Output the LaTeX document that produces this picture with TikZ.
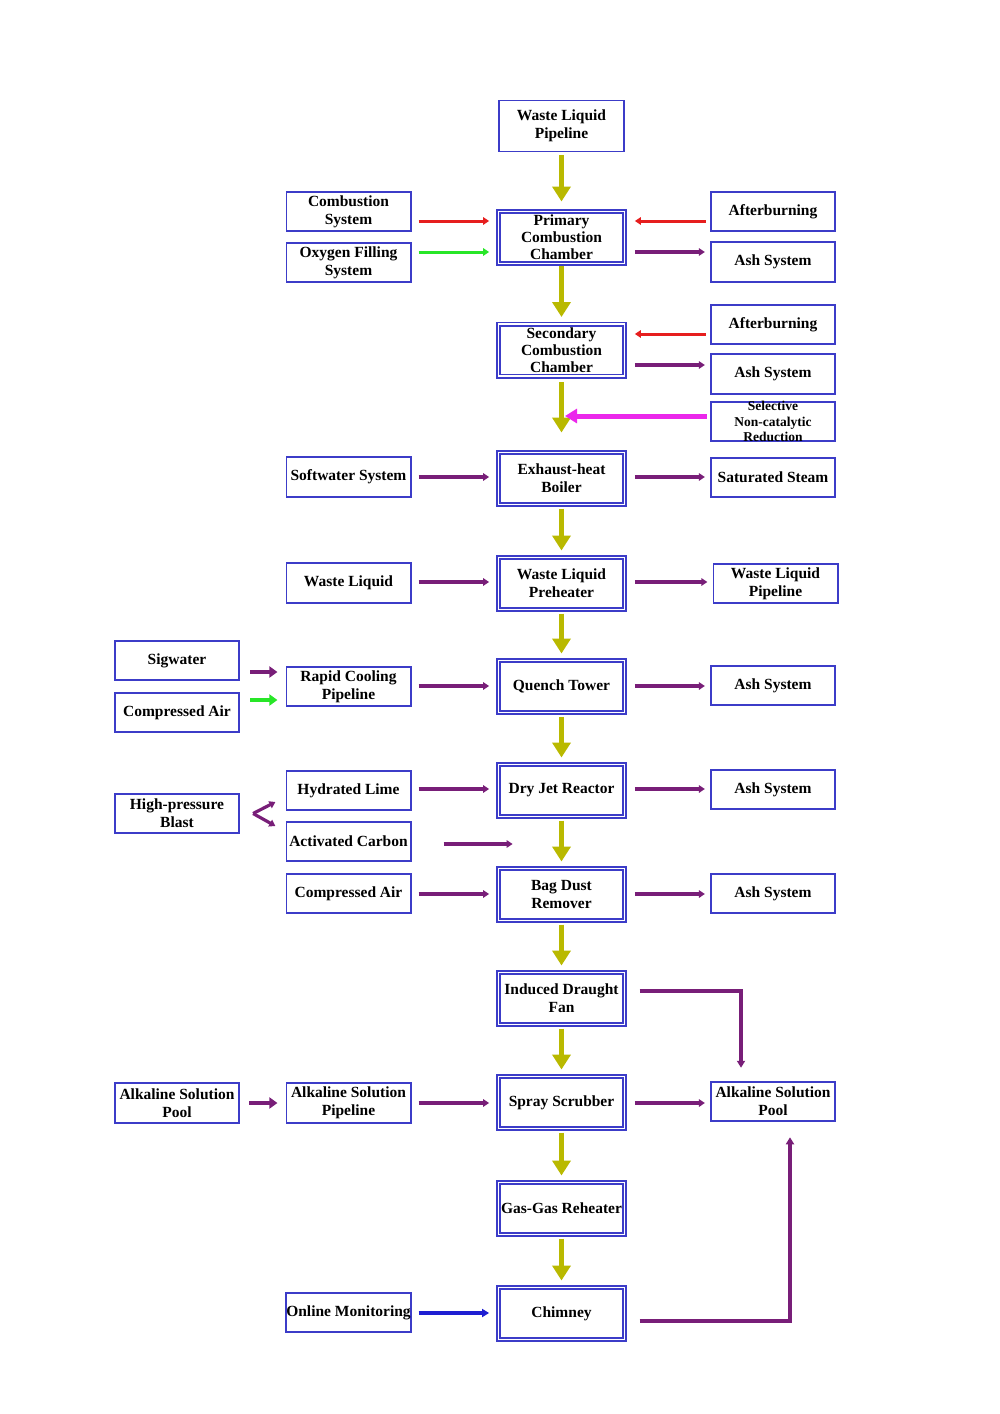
\documentclass[tikz,border=0pt]{standalone}
\usepackage{fontspec}
\setmainfont{Liberation Serif}
\usetikzlibrary{arrows.meta,calc}
\definecolor{bcol}{RGB}{60,60,200}
\definecolor{purp}{RGB}{120,30,120}
\definecolor{yel}{RGB}{185,185,0}
\definecolor{rd}{RGB}{230,30,30}
\definecolor{grn}{RGB}{40,230,40}
\definecolor{mag}{RGB}{235,40,235}
\definecolor{blu}{RGB}{30,30,210}
\tikzset{
  txt/.style={font=\fontsize{15.5}{18}\selectfont\bfseries, align=center, inner sep=0pt, outer sep=0pt},
  three/.style={font=\fontsize{15.5}{17}\selectfont\bfseries},
  sbox/.style={txt, draw=bcol, line width=1.8pt, fill=white, minimum width=124.2pt, minimum height=39.5pt},
  dbox/.style={txt, draw=bcol, line width=1.7pt, double=white, double distance=1.6pt, minimum width=126pt, minimum height=52pt},
  ya/.style={draw=yel, line width=5pt, -{Triangle[width=18pt,length=15pt]}, shorten <=4pt, shorten >=7pt},
  pa/.style={draw=purp, line width=3.2pt, -{Triangle[width=7.5pt,length=6pt]}},
  pt/.style={draw=purp, line width=4pt, -{Triangle[width=11pt,length=8pt]}},
  ra/.style={draw=rd, line width=3pt, -{Triangle[width=7.5pt,length=6pt]}},
  ga/.style={draw=grn, line width=3pt, -{Triangle[width=7.5pt,length=6pt]}},
  ga2/.style={draw=grn, line width=4pt, -{Triangle[width=11pt,length=8pt]}},
  ba/.style={draw=blu, line width=3.2pt, -{Triangle[width=8pt,length=7pt]}},
  ma/.style={draw=mag, line width=5pt, -{Triangle[width=14pt,length=12pt]}},
  lin/.style={shorten <=8pt, shorten >=9.4pt},
  rin/.style={shorten <=10.4pt, shorten >=6pt},
}
\begin{document}
\begin{tikzpicture}[x=1pt,y=-1pt]
\useasboundingbox (0,0) rectangle (1000,1414);
% main column
\node[sbox, minimum width=125pt, minimum height=51pt] (wlp) at (561.5,126) {Waste Liquid\\Pipeline};
\node[dbox, three] (pcc) at (561.5,237.5) {Primary\\Combustion\\Chamber};
\node[dbox, three] (scc) at (561.5,350) {Secondary\\Combustion\\Chamber};
\node[dbox] (boil) at (561.5,478.5) {Exhaust-heat\\Boiler};
\node[dbox] (preh) at (561.5,583.5) {Waste Liquid\\Preheater};
\node[dbox] (quench) at (561.5,686.5) {Quench Tower};
\node[dbox] (dry) at (561.5,790.5) {Dry Jet Reactor};
\node[dbox] (bag) at (561.5,894.5) {Bag Dust\\Remover};
\node[dbox] (fan) at (561.5,998.5) {Induced Draught\\Fan};
\node[dbox] (spray) at (561.5,1102.5) {Spray Scrubber};
\node[dbox] (reheat) at (561.5,1208.5) {Gas-Gas Reheater};
\node[dbox] (chim) at (561.5,1313.5) {Chimney};
% left column
\node[sbox] (comb) at (348.5,211.5) {Combustion\\System};
\node[sbox] (oxy) at (348.5,262.5) {Oxygen Filling\\System};
\node[sbox] (soft) at (348.5,477) {Softwater System};
\node[sbox] (wl) at (348.5,583) {Waste Liquid};
\node[sbox] (rapid) at (348.5,686.5) {Rapid Cooling\\Pipeline};
\node[sbox] (lime) at (348.5,790.5) {Hydrated Lime};
\node[sbox] (carb) at (348.5,841.5) {Activated Carbon};
\node[sbox] (cair) at (348.5,893.5) {Compressed Air};
\node[sbox] (alkpipe) at (348.5,1103) {Alkaline Solution\\Pipeline};
\node[sbox] (online) at (348.5,1312.5) {Online Monitoring};
% far left
\node[sbox] (sig) at (177,660.5) {Sigwater};
\node[sbox] (cair2) at (177,712.5) {Compressed Air};
\node[sbox] (hpb) at (177,813.5) {High-pressure\\Blast};
\node[sbox] (alkpool) at (177,1103) {Alkaline Solution\\Pool};
% right column
\node[sbox] (after1) at (773,211.5) {Afterburning};
\node[sbox] (ash1) at (773,262) {Ash System};
\node[sbox] (after2) at (773,324.5) {Afterburning};
\node[sbox] (ash2) at (773,374) {Ash System};
\node[sbox] (sncr) at (773,421.5) {};
\node[txt, font=\fontsize{13.5}{15.5}\selectfont\bfseries] (sncrt) at (773,421.5) {Selective\\Non-catalytic\\Reduction};
\node[sbox] (steam) at (773,477.5) {Saturated Steam};
\node[sbox] (wlp2) at (775.5,583.5) {Waste Liquid\\Pipeline};
\node[sbox] (ash3) at (773,685.5) {Ash System};
\node[sbox] (ash4) at (773,789.5) {Ash System};
\node[sbox] (ash5) at (773,893.5) {Ash System};
\node[sbox] (alkpool2) at (773,1101.5) {Alkaline Solution\\Pool};
% yellow main flow
\draw[ya, shorten <=3.5pt, shorten >=10pt] (wlp) -- (pcc);
\draw[ya, shorten <=2pt] (pcc) -- (scc);
\draw[ya, shorten <=6pt, shorten >=20pt] (scc) -- (boil);
\draw[ya] (boil) -- (preh);
\draw[ya] (preh) -- (quench);
\draw[ya] (quench) -- (dry);
\draw[ya] (dry) -- (bag);
\draw[ya] (bag) -- (fan);
\draw[ya] (fan) -- (spray);
\draw[ya] (spray) -- (reheat);
\draw[ya] (reheat) -- (chim);
% left inputs
\draw[ra, lin] (comb.east |- 0,221) -- (pcc.west |- 0,221);
\draw[ga, lin] (oxy.east |- 0,252) -- (pcc.west |- 0,252);
\draw[pa, lin] (soft.east |- 0,477) -- (boil.west |- 0,477);
\draw[pa, lin] (wl.east |- 0,582) -- (preh.west |- 0,582);
\draw[pa, lin] (rapid.east |- 0,686) -- (quench.west |- 0,686);
\draw[pa, lin] (lime.east |- 0,789) -- (dry.west |- 0,789);
\draw[pa, lin] (cair.east |- 0,894) -- (bag.west |- 0,894);
\draw[pa, lin] (alkpipe.east |- 0,1103) -- (spray.west |- 0,1103);
\draw[ba, lin] (online.east |- 0,1313) -- (chim.west |- 0,1313);
\draw[pa] ($(carb.east)+(33,2.5)$) -- ++(69,0);
% right side
\draw[ra, shorten <=5pt, shorten >=10.4pt] (after1.west |- 0,221) -- (pcc.east |- 0,221);
\draw[pa, rin] (pcc.east |- 0,252) -- (ash1.west |- 0,252);
\draw[ra, shorten <=5pt, shorten >=10.4pt] (after2.west |- 0,334) -- (scc.east |- 0,334);
\draw[pa, rin] (scc.east |- 0,365) -- (ash2.west |- 0,365);
\draw[ma, shorten <=4pt] (sncr.west |- 0,416) -- (565,416);
\draw[pa, rin] (boil.east |- 0,477) -- (steam.west |- 0,477);
\draw[pa, rin] (preh.east |- 0,582) -- (wlp2.west |- 0,582);
\draw[pa, rin] (quench.east |- 0,686) -- (ash3.west |- 0,686);
\draw[pa, rin] (dry.east |- 0,789) -- (ash4.west |- 0,789);
\draw[pa, rin] (bag.east |- 0,894) -- (ash5.west |- 0,894);
\draw[pa, rin] (spray.east |- 0,1103) -- (alkpool2.west |- 0,1103);
% far-left short arrows
\draw[pt] ($(sig.east)+(11,11.5)$) -- ($(rapid.west)+(-9,-14.5)$);
\draw[ga2] ($(cair2.east)+(11,-12.5)$) -- ($(rapid.west)+(-9,13.5)$);
\draw[pt] ($(alkpool.east)+(10,0)$) -- ($(alkpipe.west)+(-9,0)$);
\draw[pa] ($(hpb.east)+(14,0)$) -- ($(lime.west)+(-11,11.5)$);
\draw[pa] ($(hpb.east)+(14,0)$) -- ($(carb.west)+(-11,-15.5)$);
% elbow connectors
\draw[pa, line width=3.5pt, -{Triangle[width=8pt,length=7pt]}] ($(fan.east |- 0,991)+(15,0)$) -| ($(alkpool2.north)+(-32,-14)$);
\draw[pa, line width=3.5pt, -{Triangle[width=8pt,length=7pt]}] ($(chim.east |- 0,1321)+(15,0)$) -| ($(alkpool2.south)+(17,16)$);
\end{tikzpicture}
\end{document}
